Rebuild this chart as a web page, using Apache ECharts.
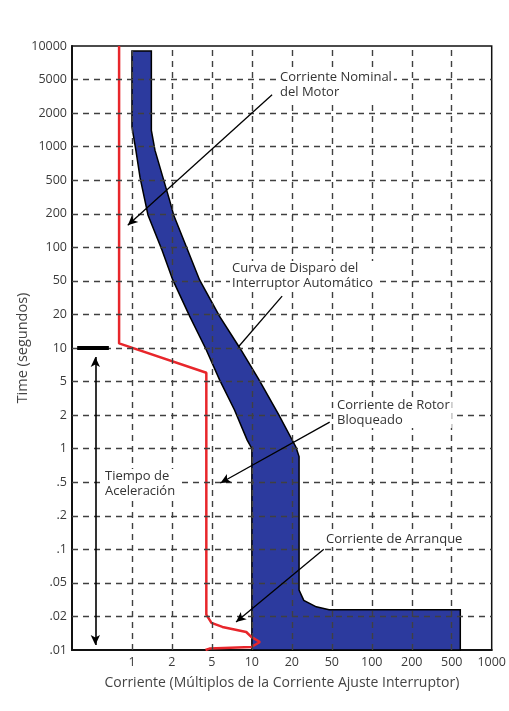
<!DOCTYPE html>
<html><head><meta charset="utf-8">
<script src="https://cdn.jsdelivr.net/npm/echarts@6/dist/echarts.min.js"></script>
<style>html,body{margin:0;padding:0;background:#fff}#c{width:509px;height:711px}</style>
</head><body><div id="c"></div><script>
// Tick labels (1-2-5 sequence, evenly spaced)
const xTickLabels = ['1','2','5','10','20','50','100','200','500','1000'];
const yTickLabels = ['.01','.02','.05','.1','.2','.5','1','2','5','10','20','50','100','200','500','1000','2000','5000','10000'];

// Motor current curve: current (multiples), time (s)
const motorCurrent = [0.8, 0.8, 4.4, 4.4, 4.95, 6.0, 9.07, 9.9, 11.5, 9.9, 4.73, 4.32];
const motorTime    = [10000, 11, 6.0, 0.021, 0.0175, 0.0161, 0.0145, 0.0131, 0.0118, 0.01064, 0.0103, 0.01];

// Breaker trip band: left (minimum) edge, top to bottom
const bandLeftCurrent = [1.0, 1.0, 1.07, 1.15, 1.25, 1.32, 1.68, 2.04, 3.0, 4.4, 5.7, 7.4, 9.2, 10, 10];
const bandLeftTime    = [9000, 1500, 930, 530, 290, 195, 95, 51, 19.3, 9.6, 5.2, 2.3, 1.2, 1.0, 0.01];
// right (maximum) edge, top to bottom
const bandRightCurrent = [1.4, 1.4, 1.49, 1.71, 1.92, 2.08, 2.86, 3.77, 5.7, 8.2, 11.3, 16, 22, 23.6, 23.6, 26.3, 35, 47, 580, 580];
const bandRightTime    = [9000, 1400, 930, 530, 290, 195, 95, 51, 19.3, 9.8, 5.2, 2.0, 1.03, 0.85, 0.041, 0.031, 0.026, 0.024, 0.024, 0.01];

// position on the evenly spaced 1-2-5 scale (1 -> 0, 2 -> 1, 5 -> 2, 10 -> 3 ...)
function pos(v) {
  const d = Math.floor(Math.log10(v) + 1e-12);
  const m = v / Math.pow(10, d);
  let t;
  if (m < 2) t = Math.log(m) / Math.log(2);
  else if (m < 5) t = 1 + Math.log(m / 2) / Math.log(2.5);
  else t = 2 + Math.log(m / 5) / Math.log(2);
  return 3 * d + t;
}
const px = v => pos(v);          // x: 1 -> 0
const py = v => pos(v) + 6;      // y: 0.01 -> 0

const motorData = motorCurrent.map((c, i) => [px(c), py(motorTime[i])]);
const bandPoly = bandLeftCurrent.map((c, i) => [px(c), py(bandLeftTime[i])])
  .concat(bandRightCurrent.map((c, i) => [px(c), py(bandRightTime[i])]).reverse());

const gridColor = '#404040';
const dash = [6, 5];
const gridLines = [];
for (let i = 0; i <= 8; i++) gridLines.push({ xAxis: i });
for (let j = 1; j <= 17; j++) gridLines.push({ yAxis: j });

function seg(a, b, endSym, width) {
  return [
    { coord: [px(a[0]), py(a[1])], symbol: 'none', lineStyle: { width: width || 1.3 } },
    { coord: [px(b[0]), py(b[1])], symbol: endSym }
  ];
}
const arrows = [
  seg([14.2, 3300], [0.93, 158], 'arrow'),
  seg([16.9, 33], [7.9, 10.2], 'none'),
  seg([47.6, 1.73], [5.8, 0.49], 'arrow'),
  seg([41.6, 0.1], [7.6, 0.0178], 'arrow')
];

const chart = echarts.init(document.getElementById('c'));
const font = '"Open Sans", sans-serif';
const txt = (t, l, tp) => ({ type: 'text', left: l, top: tp, z: 100,
  style: { text: t, font: '13px ' + font, fill: '#333', lineHeight: 15,
    backgroundColor: '#fff', padding: [0, 2, 0, 2] } });
chart.setOption({
  animation: false,
  grid: { left: 72, right: 15, top: 46, bottom: 61, show: true, borderColor: '#111', borderWidth: 1.5 },
  xAxis: {
    type: 'value', min: -1.5, max: 9, interval: 0.5,
    axisLine: { onZero: false, lineStyle: { color: '#111', width: 2 } },
    axisTick: { show: false }, splitLine: { show: false },
    axisLabel: { color: '#3a3a3a', fontFamily: font, fontSize: 12.5, margin: 6,
      formatter: v => (Number.isInteger(v) && v >= 0) ? xTickLabels[v] : '' },
    name: 'Corriente (Múltiplos de la Corriente Ajuste Interruptor)',
    nameLocation: 'middle', nameGap: 26, nameMoveOverlap: false,
    nameTextStyle: { color: '#444', fontFamily: font, fontSize: 14 }
  },
  yAxis: {
    type: 'value', min: 0, max: 18, interval: 1,
    axisLine: { onZero: false, lineStyle: { color: '#111', width: 2 } },
    axisTick: { show: false }, splitLine: { show: false },
    axisLabel: { color: '#3a3a3a', fontFamily: font, fontSize: 12.5, margin: 5,
      formatter: v => yTickLabels[v] },
    name: 'Time (segundos)', nameLocation: 'middle', nameGap: 42, nameMoveOverlap: false,
    nameTextStyle: { color: '#444', fontFamily: font, fontSize: 14.5 }
  },
  series: [
    {
      type: 'custom', z: 1, silent: true,
      data: [0],
      renderItem: (params, api) => ({
        type: 'polygon',
        shape: { points: bandPoly.map(p => api.coord(p)) },
        style: { fill: '#2c3a9e', stroke: '#000', lineWidth: 1.5 }
      })
    },
    {
      type: 'line', z: 3, data: [], silent: true,
      markLine: { silent: true, symbol: 'none', label: { show: false },
        lineStyle: { color: gridColor, width: 1.4, type: dash }, data: gridLines }
    },
    {
      type: 'line', z: 4, data: motorData, showSymbol: false, silent: true,
      lineStyle: { color: '#e8262b', width: 2.5 }, itemStyle: { color: '#e8262b' }
    },
    {
      type: 'line', z: 5, data: [], silent: true,
      markLine: { silent: true, symbolSize: [7, 10], label: { show: false },
        lineStyle: { color: '#000', width: 1.3, type: 'solid' },
        data: arrows.concat([
          [{ coord: [px(0.53), py(8.3)], symbol: 'arrow', lineStyle: { width: 1.6 } }, { coord: [px(0.53), py(0.0111)], symbol: 'arrow' }],
          [{ coord: [px(0.356), py(10)], symbol: 'none', lineStyle: { width: 4 } }, { coord: [px(0.67), py(10)], symbol: 'none' }]
        ]) }
    }
  ],
  graphic: [
    txt('Corriente Nominal\ndel Motor', 278, 70),
    txt('Curva de Disparo del\nInterruptor Automático', 230, 261),
    txt('Corriente de Rotor\nBloqueado', 335, 398),
    txt('Tiempo de\nAceleración', 103, 469),
    txt('Corriente de Arranque', 324, 532)
  ]
});
</script></body></html>
